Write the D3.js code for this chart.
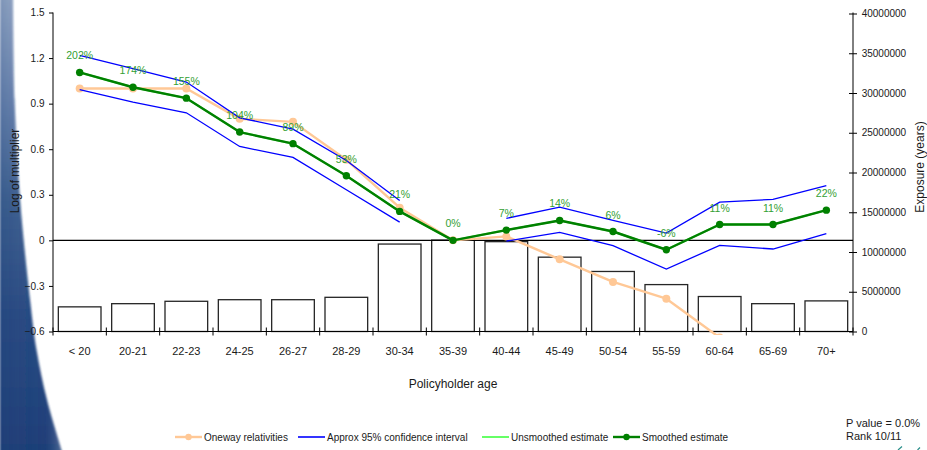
<!DOCTYPE html>
<html>
<head>
<meta charset="utf-8">
<script src="https://cdn.jsdelivr.net/npm/d3@7"></script>
<style>
  html, body { margin: 0; padding: 0; background: #ffffff; }
  svg { display: block; font-family: Arial, "Liberation Sans", sans-serif; }
</style>
</head>
<body>
<svg id="chart" width="927" height="450"></svg>
<script>
// Policyholder age bands
const categories = ["< 20", "20-21", "22-23", "24-25", "26-27", "28-29", "30-34", "35-39",
                    "40-44", "45-49", "50-54", "55-59", "60-64", "65-69", "70+"];

// Exposure (years) per band, right axis
const exposure = [3100000, 3500000, 3800000, 4000000, 4000000, 4300000, 11000000, 11500000,
                  11300000, 9350000, 7550000, 5900000, 4400000, 3500000, 3850000];

// One-way relativities (log of multiplier); bands past 60-64 fall below the plotted range
const oneway = [1.0, 1.0, 1.0, 0.8, 0.78, 0.53, 0.215, 0, 0.026, -0.125, -0.274, -0.384, -0.64, null, null];

// Approx 95% confidence interval (log of multiplier); base level 35-39 has none
const ciUpper = [1.217, 1.13, 1.042, 0.807, 0.732, 0.526, 0.263, null, 0.145, 0.219, 0.132, 0.048, 0.252, 0.27, 0.36];
const ciLower = [0.993, 0.91, 0.84, 0.618, 0.546, 0.333, 0.12, null, -0.005, 0.053, -0.035, -0.189, -0.033, -0.057, 0.044];

// Estimates as percentage change on the base level
const smoothedPct = [202, 174, 155, 104, 89, 53, 21, 0, 7, 14, 6, -6, 11, 11, 22];
const unsmoothedPct = [202, 174, 155, 104, 89, 53, 21, 0, 7, 14, 6, -6, 11, 11, 22];

// Axis ticks
const leftTicks = [-0.6, -0.3, 0, 0.3, 0.6, 0.9, 1.2, 1.5];
const rightTicks = [0, 5000000, 10000000, 15000000, 20000000, 25000000, 30000000, 35000000, 40000000];

// Legend entries
const legendNames = ["Oneway relativities", "Approx 95% confidence interval", "Unsmoothed estimate", "Smoothed estimate"];

const toLog = p => Math.log(1 + p / 100);
const smoothed = smoothedPct.map(toLog);
const unsmoothed = unsmoothedPct.map(toLog);

const COL = {
  oneway: "#ffc896",
  ci: "#0000ff",
  unsmoothed: "#66ff66",
  smoothed: "#008000",
  label: "#33a033",
  text: "#1a1a1a"
};

const svg = d3.select("#chart");
const plotL = 53, plotR = 853, plotT = 12.5, plotB = 331.5;

// ---- slide background swoosh on the left edge ----
const defs = svg.append("defs");
const grad = defs.append("linearGradient").attr("id", "swoosh")
  .attr("x1", 0).attr("y1", 0).attr("x2", 0).attr("y2", 1);
[[0, "#b3c3da"], [0.22, "#7d96bd"], [0.45, "#456896"], [0.7, "#2b4d85"], [1, "#1f3f78"]]
  .forEach(([o, c]) => grad.append("stop").attr("offset", o).attr("stop-color", c));
const gradH = defs.append("linearGradient").attr("id", "swooshShade")
  .attr("x1", 0).attr("y1", 0).attr("x2", 1).attr("y2", 0);
[[0, "#1f3f78", 0.35], [0.7, "#1f3f78", 0], [1, "#ffffff", 0.25]]
  .forEach(([o, c, a]) => gradH.append("stop").attr("offset", o).attr("stop-color", c).attr("stop-opacity", a));
defs.append("filter").attr("id", "soft").attr("x", -0.2).attr("width", 1.4)
  .append("feGaussianBlur").attr("stdDeviation", 1.1);

const edge = [[13, -2], [14.5, 100], [20, 200], [30, 300], [36.5, 350], [47, 400], [62, 452]];
const edgeLine = d3.line().curve(d3.curveCatmullRom);
const swooshPath = edgeLine(edge) + " L0,452 L0,-2 Z";
svg.append("path").attr("d", swooshPath).attr("fill", "url(#swoosh)").attr("filter", "url(#soft)");
svg.append("path").attr("d", swooshPath).attr("fill", "url(#swooshShade)").attr("filter", "url(#soft)");

// ---- scales ----
const x = d3.scaleBand().domain(categories).range([plotL, plotR]).paddingInner(0.2).paddingOuter(0.1);
const cx = c => x(c) + x.bandwidth() / 2;
const yL = d3.scaleLinear().domain([-0.6, 1.5]).range([plotB, plotT]);
const yR = d3.scaleLinear().domain([0, 40000000]).range([plotB, 13.5]);

defs.append("clipPath").attr("id", "plotClip")
  .append("rect").attr("x", plotL).attr("y", 0).attr("width", plotR - plotL).attr("height", plotB + 3.5);

// ---- exposure bars ----
svg.append("g").selectAll("rect").data(categories).join("rect")
  .attr("x", d => x(d))
  .attr("y", (d, i) => yR(exposure[i]))
  .attr("width", x.bandwidth())
  .attr("height", (d, i) => yR(0) - yR(exposure[i]))
  .attr("fill", "#ffffff")
  .attr("stroke", "#262626")
  .attr("stroke-width", 1.3);

// zero line
svg.append("line")
  .attr("x1", plotL).attr("x2", plotR).attr("y1", yL(0)).attr("y2", yL(0))
  .attr("stroke", "#000").attr("stroke-width", 1.2);

// ---- axes ----
const axL = svg.append("g").attr("transform", `translate(${plotL},0)`)
  .call(d3.axisLeft(yL).tickValues(leftTicks).tickSize(4).tickPadding(4.5)
    .tickFormat(d => d === 0 ? "0" : d3.format(".1f")(d)));
axL.select(".domain").attr("stroke", "#000").attr("d", `M0,${plotT}V${plotB}`);
axL.selectAll("text").attr("font-size", 10).attr("fill", COL.text).attr("font-family", "Arial, 'Liberation Sans', sans-serif");

const axR = svg.append("g").attr("transform", `translate(${plotR},0)`)
  .call(d3.axisRight(yR).tickValues(rightTicks).tickSize(4).tickPadding(4.7).tickFormat(d3.format("d")));
axR.select(".domain").attr("stroke", "#000").attr("d", `M0,${plotT}V${plotB}`);
axR.selectAll(".tick line").attr("x1", -4).attr("x2", 4);
axR.selectAll("text").attr("font-size", 10).attr("fill", COL.text).attr("font-family", "Arial, 'Liberation Sans', sans-serif");

// category axis: boundary ticks crossing the axis, labels centred in each band
const gx = svg.append("g");
gx.append("line").attr("x1", plotL).attr("x2", plotR).attr("y1", plotB).attr("y2", plotB)
  .attr("stroke", "#000").attr("stroke-width", 1);
const bounds = categories.map(c => x(c) - x.step() * x.paddingInner() / 2).concat([plotR]);
bounds[0] = plotL;
gx.selectAll("line.b").data(bounds).join("line").attr("class", "b")
  .attr("x1", d => d).attr("x2", d => d).attr("y1", plotB - 4).attr("y2", plotB + 4)
  .attr("stroke", "#000").attr("stroke-width", 1);
gx.selectAll("text").data(categories).join("text")
  .attr("x", d => cx(d)).attr("y", 355)
  .attr("text-anchor", "middle").attr("font-size", 11).attr("fill", COL.text)
  .text(d => d);

// axis titles
svg.append("text").attr("transform", `translate(19,171) rotate(-90)`)
  .attr("text-anchor", "middle").attr("font-size", 12).attr("fill", COL.text).text("Log of multiplier");
svg.append("text").attr("transform", `translate(924,167) rotate(-90)`)
  .attr("text-anchor", "middle").attr("font-size", 12).attr("fill", COL.text).text("Exposure (years)");
svg.append("text").attr("x", 453).attr("y", 388)
  .attr("text-anchor", "middle").attr("font-size", 12).attr("fill", COL.text).text("Policyholder age");

// ---- series lines ----
const plot = svg.append("g").attr("clip-path", "url(#plotClip)");
const lineOf = vals => d3.line()
  .defined((d, i) => vals[i] !== null)
  .x((d, i) => cx(categories[i]))
  .y((d, i) => yL(vals[i]))(vals);

plot.append("path").attr("d", lineOf(oneway)).attr("fill", "none")
  .attr("stroke", COL.oneway).attr("stroke-width", 2.4).attr("stroke-linejoin", "round");
plot.selectAll("circle.ow").data(oneway.map((v, i) => [categories[i], v]).filter(d => d[1] !== null))
  .join("circle").attr("class", "ow")
  .attr("cx", d => cx(d[0])).attr("cy", d => yL(d[1])).attr("r", 4).attr("fill", COL.oneway);

plot.append("path").attr("d", lineOf(ciUpper)).attr("fill", "none").attr("stroke", COL.ci).attr("stroke-width", 1.3);
plot.append("path").attr("d", lineOf(ciLower)).attr("fill", "none").attr("stroke", COL.ci).attr("stroke-width", 1.3);

plot.append("path").attr("d", lineOf(unsmoothed)).attr("fill", "none")
  .attr("stroke", COL.unsmoothed).attr("stroke-width", 2);

plot.append("path").attr("d", lineOf(smoothed)).attr("fill", "none")
  .attr("stroke", COL.smoothed).attr("stroke-width", 2.4).attr("stroke-linejoin", "round");
plot.selectAll("circle.sm").data(categories).join("circle").attr("class", "sm")
  .attr("cx", d => cx(d)).attr("cy", (d, i) => yL(smoothed[i])).attr("r", 3.7).attr("fill", COL.smoothed);

// percentage labels above the smoothed estimate
svg.append("g").selectAll("text").data(categories).join("text")
  .attr("x", d => cx(d)).attr("y", (d, i) => yL(smoothed[i]) - 13)
  .attr("text-anchor", "middle").attr("font-size", 10.5).attr("fill", COL.label)
  .text((d, i) => smoothedPct[i] + "%");

// ---- legend ----
const legendStyle = [
  { color: COL.oneway, marker: true, width: 2.4, x: 175 },
  { color: COL.ci, marker: false, width: 1.6, x: 298 },
  { color: COL.unsmoothed, marker: false, width: 2, x: 482 },
  { color: COL.smoothed, marker: true, width: 2.4, x: 613 }
];
const lg = svg.append("g");
legendNames.forEach((name, i) => {
  const s = legendStyle[i];
  const ly = 437;
  lg.append("line").attr("x1", s.x).attr("x2", s.x + 27).attr("y1", ly).attr("y2", ly)
    .attr("stroke", s.color).attr("stroke-width", s.width);
  if (s.marker) lg.append("circle").attr("cx", s.x + 13.5).attr("cy", ly).attr("r", 3.2).attr("fill", s.color);
  lg.append("text").attr("x", s.x + 29).attr("y", ly + 3.6)
    .attr("font-size", 10).attr("fill", COL.text).text(name);
});

// ---- model statistics ----
svg.append("text").attr("x", 846).attr("y", 427).attr("font-size", 11).attr("fill", COL.text).text("P value = 0.0%");
svg.append("text").attr("x", 846).attr("y", 440).attr("font-size", 11).attr("fill", COL.text).text("Rank 10/11");

// small teal strokes in the bottom-right corner
svg.append("path").attr("d", "M898,450 L902,446.5 M917.5,450 L920,447.5")
  .attr("stroke", "#2a8f8a").attr("stroke-width", 1.2).attr("fill", "none");
</script>
</body>
</html>
